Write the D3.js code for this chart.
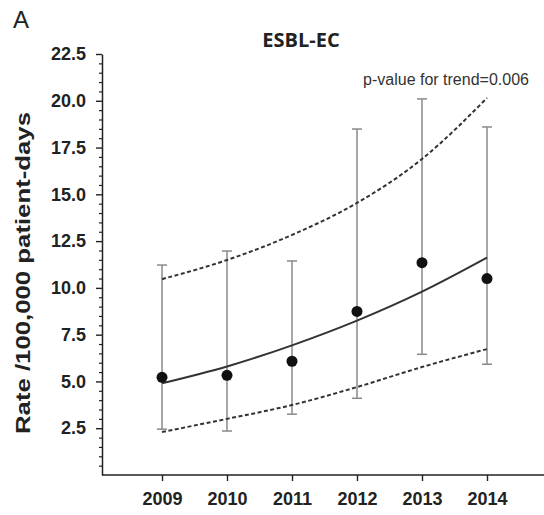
<!DOCTYPE html>
<html>
<head>
<meta charset="utf-8">
<script src="https://cdn.jsdelivr.net/npm/d3@7"></script>
<style>
  body { margin: 0; background: #fff; }
  svg { display: block; font-family: "Liberation Sans", Arial, sans-serif; }
</style>
</head>
<body>
<div id="chart"></div>
<script>
const years = [2009, 2010, 2011, 2012, 2013, 2014];
const rates = [5.22, 5.33, 6.08, 8.74, 11.35, 10.5];
const ciLow = [2.45, 2.35, 3.25, 4.1, 6.45, 5.92];
const ciHigh = [11.22, 11.97, 11.44, 18.49, 20.1, 18.6];
const trendFit = [4.9, 5.8, 6.93, 8.25, 9.8, 11.62];
const trendLow = [2.3, 3.0, 3.74, 4.7, 5.77, 6.73];
const trendHigh = [10.47, 11.49, 12.83, 14.54, 16.89, 20.15];
const yTicks = [2.5, 5.0, 7.5, 10.0, 12.5, 15.0, 17.5, 20.0, 22.5];

function createChart() {
    const width = 544, height = 515;
    const svg = d3.select('#chart').append('svg')
        .attr('width', width)
        .attr('height', height);

    const x = d3.scaleLinear().domain([2009, 2014]).range([162, 487]);
    const y = d3.scaleLinear().domain([0, 22.5]).range([475, 54]);

    // Minor ticks every 0.5
    const minor = d3.range(0.5, 22.5, 0.5).filter(v => Math.abs(v / 2.5 - Math.round(v / 2.5)) > 1e-6);
    svg.append('g')
        .attr('transform', 'translate(102,0)')
        .call(d3.axisLeft(y).tickValues(minor).tickSize(3).tickSizeOuter(0).tickFormat(''))
        .call(g => g.select('.domain').remove())
        .selectAll('line').attr('stroke', '#222').attr('stroke-width', 1.2);

    // Major y axis
    const yAxis = svg.append('g')
        .attr('transform', 'translate(102,0)')
        .call(d3.axisLeft(y).tickValues(yTicks).tickSize(6).tickSizeOuter(0).tickPadding(10).tickFormat(d3.format('.1f')));
    yAxis.select('.domain').attr('stroke', '#222').attr('stroke-width', 1.5);
    yAxis.selectAll('line').attr('stroke', '#222').attr('stroke-width', 1.4);
    yAxis.selectAll('text')
        .attr('fill', '#222')
        .style('font-size', '18px')
        .style('font-weight', 'bold');

    // X axis
    const xAxis = svg.append('g')
        .attr('transform', 'translate(0,475)')
        .call(d3.axisBottom(x).tickValues(years).tickSize(6).tickSizeOuter(0).tickPadding(11).tickFormat(d3.format('d')));
    xAxis.select('.domain').attr('d', 'M102,0H544').attr('stroke', '#222').attr('stroke-width', 1.5);
    xAxis.selectAll('line').attr('stroke', '#222').attr('stroke-width', 1.4);
    xAxis.selectAll('text')
        .attr('fill', '#222')
        .style('font-size', '18px')
        .style('font-weight', 'bold');

    // Error bars
    const eb = svg.append('g').attr('stroke', '#8a8a8a').attr('stroke-width', 1.5);
    years.forEach((yr, i) => {
        const cx = x(yr);
        eb.append('line').attr('x1', cx).attr('x2', cx).attr('y1', y(ciLow[i])).attr('y2', y(ciHigh[i]));
        eb.append('line').attr('x1', cx - 5).attr('x2', cx + 5).attr('y1', y(ciLow[i])).attr('y2', y(ciLow[i]));
        eb.append('line').attr('x1', cx - 5).attr('x2', cx + 5).attr('y1', y(ciHigh[i])).attr('y2', y(ciHigh[i]));
    });

    // Trend and confidence band
    const line = vals => d3.line()
        .x((d, i) => x(years[i]))
        .y(d => y(d))
        .curve(d3.curveMonotoneX)(vals);

    svg.append('path').attr('d', line(trendFit))
        .attr('fill', 'none').attr('stroke', '#333').attr('stroke-width', 2);
    [trendLow, trendHigh].forEach(vals => {
        svg.append('path').attr('d', line(vals))
            .attr('fill', 'none').attr('stroke', '#333').attr('stroke-width', 2)
            .attr('stroke-dasharray', '4,2.5');
    });

    // Points
    svg.selectAll('.pt')
        .data(rates)
        .enter().append('circle')
        .attr('class', 'pt')
        .attr('cx', (d, i) => x(years[i]))
        .attr('cy', d => y(d))
        .attr('r', 5.5)
        .attr('fill', '#111');

    // Texts
    svg.append('text')
        .attr('x', 13).attr('y', 28)
        .style('font-size', '24px')
        .attr('fill', '#222')
        .text('A');

    svg.append('text')
        .attr('x', 301).attr('y', 47)
        .attr('text-anchor', 'middle')
        .style('font-family', '"Open Sans", sans-serif')
        .style('font-size', '20px')
        .style('font-weight', 'bold')
        .attr('fill', '#222')
        .text('ESBL-EC');

    svg.append('text')
        .attr('x', 446).attr('y', 85)
        .attr('text-anchor', 'middle')
        .style('font-size', '16px')
        .attr('fill', '#333')
        .text('p-value for trend=0.006');

    svg.append('text')
        .attr('transform', 'translate(30,273) rotate(-90)')
        .attr('text-anchor', 'middle')
        .attr('textLength', 322)
        .attr('lengthAdjust', 'spacingAndGlyphs')
        .style('font-size', '20px')
        .style('font-weight', 'bold')
        .attr('fill', '#222')
        .text('Rate /100,000 patient-days');
}

createChart();
</script>
</body>
</html>
